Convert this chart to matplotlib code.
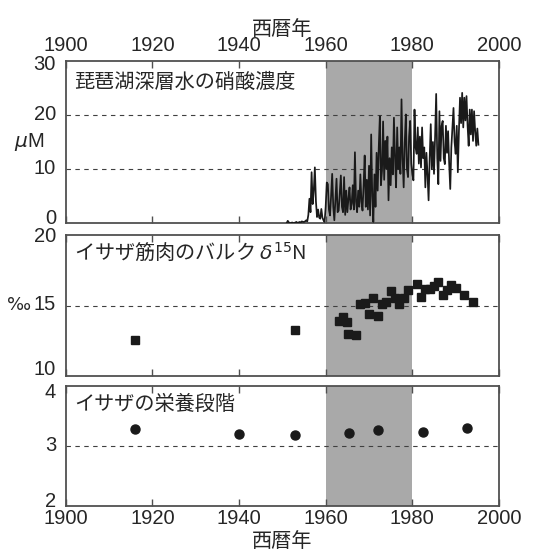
import numpy as np
import matplotlib
matplotlib.use("Agg")
import matplotlib.pyplot as plt
from matplotlib.transforms import ScaledTranslation

plt.rcParams['font.family'] = ['Liberation Sans', 'Noto Sans CJK JP', 'DejaVu Sans']
plt.rcParams['mathtext.fontset'] = 'dejavusans'

# ---------------- data ----------------
# Nitrate in deep water of Lake Biwa (quarterly samples, 1951.0 onward)
nitrate_start = 1951.0
nitrate_step = 0.25
nitrate_values = [
    0.0, 0.4, 0.1, 0.0,      # 1951
    0.0, 0.1, 0.0, 0.0,      # 1952
    0.1, 0.2, 0.0, 0.1,      # 1953
    0.2, 0.1, 0.3, 0.2,      # 1954
    0.2, 0.3, 0.5, 0.3,      # 1955
    1.5, 4.5, 2.0, 9.4,      # 1956
    3.5, 6.0, 10.3, 4.0,     # 1957
    1.1, 2.5, 1.0, 0.8,      # 1958
    2.6, 1.0, 0.5, 0.2,      # 1959
    3.0, 7.5, 7.2, 2.5,      # 1960
    1.4, 5.0, 9.1, 3.0,      # 1961
    0.5, 4.5, 8.2, 2.0,      # 1962
    2.3, 5.5, 8.8, 3.0,      # 1963
    2.0, 8.5, 1.5, 6.0,      # 1964
    2.0, 4.5, 6.6, 2.5,      # 1965
    3.6, 7.0, 2.5, 13.1,     # 1966
    4.0, 2.0, 6.0, 3.0,      # 1967
    9.0, 4.0, 2.3, 7.0,      # 1968
    12.5, 3.0, 8.0, 2.5,     # 1969
    10.6, 1.4, 16.4, 5.0,    # 1970
    0.2, 9.0, 3.0, 13.0,     # 1971
    6.0, 14.0, 19.8, 7.0,    # 1972
    9.7, 18.8, 8.0, 15.2,    # 1973
    10.0, 16.0, 4.2, 12.0,   # 1974
    7.0, 14.0, 9.0, 19.5,    # 1975
    12.0, 6.6, 17.7, 10.0,   # 1976
    14.0, 9.1, 22.9, 12.0,   # 1977
    6.6, 15.0, 20.1, 10.0,   # 1978
    8.5, 16.0, 18.9, 11.0,   # 1979
    9.0, 7.9, 21.0, 14.0,    # 1980
    12.8, 17.7, 11.0, 16.0,  # 1981
    10.3, 17.7, 12.0, 14.0,  # 1982
    6.6, 13.0, 9.0, 4.2,     # 1983
    12.0, 18.3, 10.0, 15.0,  # 1984
    9.1, 16.0, 23.9, 12.0,   # 1985
    7.2, 20.7, 11.5, 18.0,   # 1986
    18.9, 12.0, 10.9, 18.0,  # 1987
    13.0, 17.0, 11.0, 6.3,   # 1988
    14.0, 17.5, 21.3, 15.0,  # 1989
    12.8, 18.0, 9.4, 17.0,   # 1990
    23.2, 18.5, 24.1, 17.7,  # 1991
    23.2, 19.0, 23.5, 18.0,  # 1992
    14.3, 21.0, 16.4, 21.0,  # 1993
    15.2, 20.7, 17.0, 14.3,  # 1994
    17.5, 14.5,              # 1995
]
nitrate_years = nitrate_start + nitrate_step * np.arange(len(nitrate_values))

# Bulk d15N of Isaza muscle
d15n_years = [1916, 1953, 1963, 1964, 1965, 1965.2, 1967, 1968, 1969, 1970, 1971,
              1972, 1973, 1974, 1975, 1976, 1977, 1978, 1979, 1981, 1982, 1983,
              1984, 1985, 1986, 1987, 1988, 1989, 1990, 1992, 1994]
d15n_values = [12.55, 13.25, 13.9, 14.2, 13.8, 12.97, 12.88, 15.14, 15.19, 14.39, 15.5,
               14.29, 15.1, 15.28, 16.0, 15.54, 15.1, 15.54, 16.13, 16.56, 15.6, 16.2,
               16.15, 16.37, 16.7, 15.73, 16.08, 16.46, 16.25, 15.73, 15.24]

# Trophic level of Isaza
tl_years = [1916, 1940, 1953, 1965.3, 1972, 1982.5, 1992.5]
tl_values = [3.28, 3.20, 3.19, 3.21, 3.27, 3.24, 3.30]

shade_span = (1960, 1980)
xticks = [1900, 1920, 1940, 1960, 1980, 2000]

# ---------------- figure ----------------
W, H = 538, 553
fig = plt.figure(figsize=(W / 100, H / 100), dpi=100)
fig.patch.set_facecolor('white')

def px_axes(top, bottom, left=65.7, right=499):
    return fig.add_axes([left / W, 1 - bottom / H, (right - left) / W, (bottom - top) / H])

ax1 = px_axes(61, 223)
ax2 = px_axes(235, 376)
ax3 = px_axes(386, 506)

TXT = '#262626'
SPINE = '#505050'
GRID = '#404040'
SHADE = '#a9a9a9'
tick_fs = 14.5
title_fs = 14.5
cjk = ['Noto Sans CJK JP', 'DejaVu Sans']

for ax in (ax1, ax2, ax3):
    ax.set_xlim(1900, 2000)
    ax.set_xticks(xticks)
    ax.axvspan(*shade_span, color=SHADE, lw=0, zorder=0)
    for s in ax.spines.values():
        s.set_color(SPINE)
        s.set_linewidth(1.3)
    ax.tick_params(axis='both', direction='in', length=5, width=1, color=SPINE,
                   labelsize=tick_fs, labelcolor=TXT, top=True, right=False, pad=2)
    ax.tick_params(axis='y', length=0, pad=7)

# top panel
ax1.plot(nitrate_years, nitrate_values, color='#1a1a1a', lw=1.25, zorder=3)
ax1.set_ylim(0, 30)
ax1.set_yticks([0, 10, 20, 30])
for v in (10, 20):
    ax1.axhline(v, color=GRID, lw=0.8, ls=(0, (4, 4)), zorder=1)
ax1.tick_params(axis='x', labeltop=True, labelbottom=False, pad=4)
ax1.set_xlabel('西暦年', family=cjk, fontsize=14.5, color=TXT, labelpad=1)
ax1.xaxis.set_label_position('top')
ax1.text(0.02, 0.87, '琵琶湖深層水の硝酸濃度', transform=ax1.transAxes, family=cjk,
         fontsize=title_fs, color=TXT, va='center', ha='left')
ax1.text(-0.05, 15, r'$\mu$M', transform=ax1.get_yaxis_transform(), fontsize=tick_fs,
         color=TXT, ha='right', va='center')

# middle panel
ax2.plot(d15n_years, d15n_values, ls='none', marker='s', ms=5.5, color='#1a1a1a', zorder=3)
ax2.set_ylim(10, 20)
ax2.set_yticks([10, 15, 20])
ax2.axhline(15, color=GRID, lw=0.8, ls=(0, (4, 4)), zorder=1)
ax2.tick_params(axis='x', labelbottom=False)
ax2.text(0.02, 0.87, r'イサザ筋肉のバルク $\delta^{15}$N', transform=ax2.transAxes, family=cjk,
         fontsize=title_fs, color=TXT, va='center', ha='left')
ax2.text(-0.08, 15, '‰', transform=ax2.get_yaxis_transform(), fontsize=13,
         color=TXT, ha='right', va='center', family=['DejaVu Sans'])

# bottom panel
ax3.plot(tl_years, tl_values, ls='none', marker='o', ms=6.5, color='#1a1a1a', zorder=3)
ax3.set_ylim(2, 4)
ax3.set_yticks([2, 3, 4])
ax3.axhline(3, color=GRID, lw=0.8, ls=(0, (4, 4)), zorder=1)
ax3.set_xlabel('西暦年', family=cjk, fontsize=14.5, color=TXT, labelpad=2)
ax3.text(0.02, 0.85, 'イサザの栄養段階', transform=ax3.transAxes, family=cjk,
         fontsize=title_fs, color=TXT, va='center', ha='left')

# small vertical nudges of y tick labels (pixels), as in the reference
nudges = {ax1: [5, 2, 2, -1], ax2: [6, 2, 0], ax3: [5, 2, -3]}
for ax, dys in nudges.items():
    for lab, dy in zip(ax.get_yticklabels(), dys):
        lab.set_transform(lab.get_transform() + ScaledTranslation(0, dy / 72, fig.dpi_scale_trans))

fig.savefig('out.png', dpi=100, facecolor='white')
